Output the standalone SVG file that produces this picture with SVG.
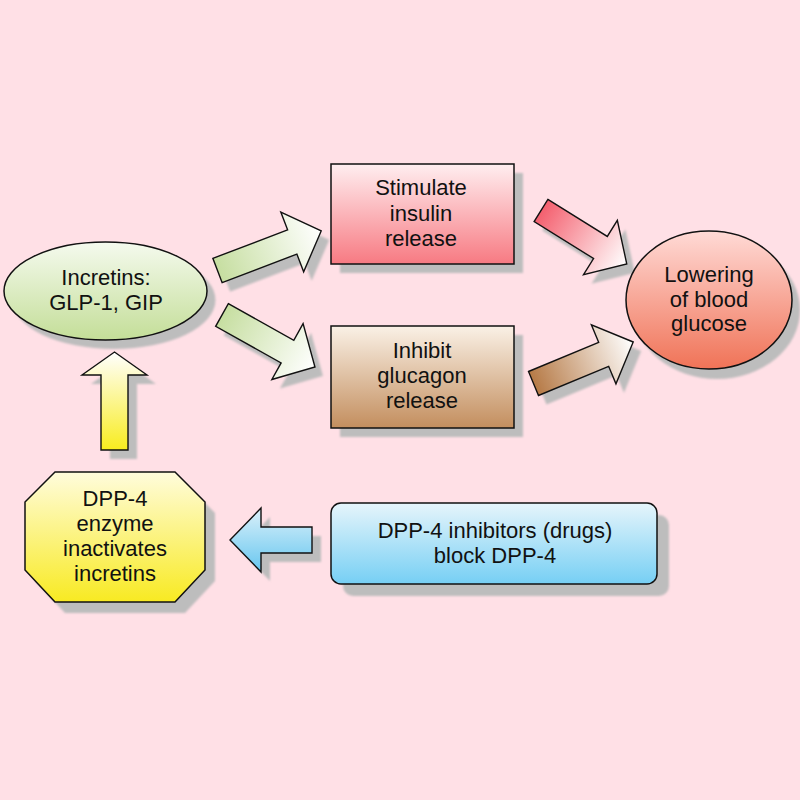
<svg xmlns="http://www.w3.org/2000/svg" width="800" height="800" viewBox="0 0 800 800">
<defs>
<style>
.shape{stroke:#111;stroke-width:1.5}
.arrow{stroke:#111;stroke-width:1.4;stroke-linejoin:miter}
.shadow{fill:#bdbdbd;filter:url(#blur)}
.t{font-family:"Liberation Sans",Arial,sans-serif;font-size:22px;fill:#111;text-anchor:middle}
</style>
<filter id="blur" x="-20%" y="-20%" width="140%" height="140%"><feGaussianBlur stdDeviation="1.3"/></filter>
<linearGradient id="gEll" x1="0" y1="0" x2="0" y2="1"><stop offset="0" stop-color="#f5faee"/><stop offset="1" stop-color="#c4de98"/></linearGradient>
<linearGradient id="gStim" x1="0" y1="0" x2="0" y2="1"><stop offset="0" stop-color="#ffeef0"/><stop offset="1" stop-color="#f77a82"/></linearGradient>
<linearGradient id="gInh" x1="0" y1="0" x2="0" y2="1"><stop offset="0" stop-color="#faf1e6"/><stop offset="1" stop-color="#c38e5e"/></linearGradient>
<linearGradient id="gLow" x1="0" y1="0" x2="0" y2="1"><stop offset="0" stop-color="#ffdad6"/><stop offset="1" stop-color="#f07357"/></linearGradient>
<linearGradient id="gOct" x1="0" y1="0" x2="0" y2="1"><stop offset="0" stop-color="#fffcdc"/><stop offset="1" stop-color="#f8ea22"/></linearGradient>
<linearGradient id="gBlue" x1="0" y1="0" x2="0" y2="1"><stop offset="0" stop-color="#e6f5fb"/><stop offset="1" stop-color="#76cff4"/></linearGradient>
<linearGradient id="aGreen" x1="0" y1="0" x2="1" y2="0"><stop offset="0" stop-color="#c6dea0"/><stop offset="1" stop-color="#ffffff"/></linearGradient>
<linearGradient id="aRed" x1="0" y1="0" x2="1" y2="0"><stop offset="0" stop-color="#f45f6e"/><stop offset="1" stop-color="#ffffff"/></linearGradient>
<linearGradient id="aBrown" x1="0" y1="0" x2="1" y2="0"><stop offset="0" stop-color="#b67a46"/><stop offset="1" stop-color="#ffffff"/></linearGradient>
<linearGradient id="aYellow" x1="0" y1="0" x2="0" y2="1"><stop offset="0" stop-color="#ffffff"/><stop offset="1" stop-color="#f8ec1e"/></linearGradient>
<linearGradient id="aBlue" x1="0" y1="0" x2="0" y2="1"><stop offset="0" stop-color="#dcf1fa"/><stop offset="1" stop-color="#66c6ef"/></linearGradient>
</defs>
<rect x="0" y="0" width="800" height="800" fill="#ffe0e6"/>

<g id="connectors">
  <!-- Incretins -> Stimulate -->
  <g>
    <path class="shadow" transform="translate(225.5,279.5) rotate(-20.9)" d="M0,-13 L80,-13 L80,-32 L111,0 L80,32 L80,13 L0,13 Z"/>
    <path class="arrow" fill="url(#aGreen)" transform="translate(217.5,270.5) rotate(-20.9)" d="M0,-13 L80,-13 L80,-32 L111,0 L80,32 L80,13 L0,13 Z"/>
  </g>
  <!-- Incretins -> Inhibit -->
  <g>
    <path class="shadow" transform="translate(230,324) rotate(29.2)" d="M0,-13 L75,-13 L75,-32 L106.5,0 L75,32 L75,13 L0,13 Z"/>
    <path class="arrow" fill="url(#aGreen)" transform="translate(222,315) rotate(29.2)" d="M0,-13 L75,-13 L75,-32 L106.5,0 L75,32 L75,13 L0,13 Z"/>
  </g>
  <!-- Stimulate -> Lowering -->
  <g>
    <path class="shadow" transform="translate(549,219.5) rotate(31.9)" d="M0,-13 L70,-13 L70,-32 L101,0 L70,32 L70,13 L0,13 Z"/>
    <path class="arrow" fill="url(#aRed)" transform="translate(541,210.5) rotate(31.9)" d="M0,-13 L70,-13 L70,-32 L101,0 L70,32 L70,13 L0,13 Z"/>
  </g>
  <!-- Inhibit -> Lowering -->
  <g>
    <path class="shadow" transform="translate(541.5,392.5) rotate(-22.6)" d="M0,-13 L76,-13 L76,-32 L108,0 L76,32 L76,13 L0,13 Z"/>
    <path class="arrow" fill="url(#aBrown)" transform="translate(533.5,383.5) rotate(-22.6)" d="M0,-13 L76,-13 L76,-32 L108,0 L76,32 L76,13 L0,13 Z"/>
  </g>
  <!-- DPP-4 -> Incretins (up) -->
  <g>
    <path class="shadow" transform="translate(9,9)" d="M101,450 L101,375 L82,375 L114.5,352 L147,375 L128,375 L128,450 Z"/>
    <path class="arrow" fill="url(#aYellow)" d="M101,450 L101,375 L82,375 L114.5,352 L147,375 L128,375 L128,450 Z"/>
  </g>
  <!-- Inhibitors -> DPP-4 (left) -->
  <g>
    <path class="shadow" transform="translate(9,9)" d="M312,527 L261,527 L261,508 L230,540 L261,572 L261,553 L312,553 Z"/>
    <path class="arrow" fill="url(#aBlue)" d="M312,527 L261,527 L261,508 L230,540 L261,572 L261,553 L312,553 Z"/>
  </g>
</g>

<g id="incretins">
  <ellipse class="shadow" cx="114" cy="300" rx="101.5" ry="49"/>
  <ellipse class="shape" fill="url(#gEll)" cx="105.5" cy="291" rx="101.5" ry="49"/>
  <text class="t" x="106" y="285">Incretins:</text>
  <text class="t" x="106" y="310">GLP-1, GIP</text>
</g>

<g id="stimulate">
  <rect class="shadow" x="340" y="173" width="183" height="100"/>
  <rect class="shape" fill="url(#gStim)" x="331" y="164" width="183" height="100"/>
  <text class="t" x="421" y="195">Stimulate</text>
  <text class="t" x="421" y="221">insulin</text>
  <text class="t" x="421" y="246">release</text>
</g>

<g id="inhibit">
  <rect class="shadow" x="340" y="335" width="183" height="102"/>
  <rect class="shape" fill="url(#gInh)" x="331" y="326" width="183" height="102"/>
  <text class="t" x="422" y="358">Inhibit</text>
  <text class="t" x="422" y="383">glucagon</text>
  <text class="t" x="422" y="408">release</text>
</g>

<g id="lowering">
  <ellipse class="shadow" cx="717" cy="310" rx="83" ry="69"/>
  <ellipse class="shape" fill="url(#gLow)" cx="709" cy="300" rx="83" ry="69"/>
  <text class="t" x="709" y="282">Lowering</text>
  <text class="t" x="709" y="307">of blood</text>
  <text class="t" x="709" y="331">glucose</text>
</g>

<g id="dpp4">
  <polygon class="shadow" transform="translate(10,11)" points="55,472 175,472 205,502 205,570 175,602 55,602 25,570 25,502"/>
  <polygon class="shape" fill="url(#gOct)" points="55,472 175,472 205,502 205,570 175,602 55,602 25,570 25,502"/>
  <text class="t" x="115" y="506">DPP-4</text>
  <text class="t" x="115" y="531">enzyme</text>
  <text class="t" x="115" y="556">inactivates</text>
  <text class="t" x="115" y="581">incretins</text>
</g>

<g id="inhibitors">
  <rect class="shadow" x="343" y="515" width="326" height="81" rx="10" ry="10"/>
  <rect class="shape" fill="url(#gBlue)" x="331" y="503" width="326" height="81" rx="10" ry="10"/>
  <text class="t" x="495" y="538">DPP-4 inhibitors (drugs)</text>
  <text class="t" x="495" y="563">block DPP-4</text>
</g>
</svg>
